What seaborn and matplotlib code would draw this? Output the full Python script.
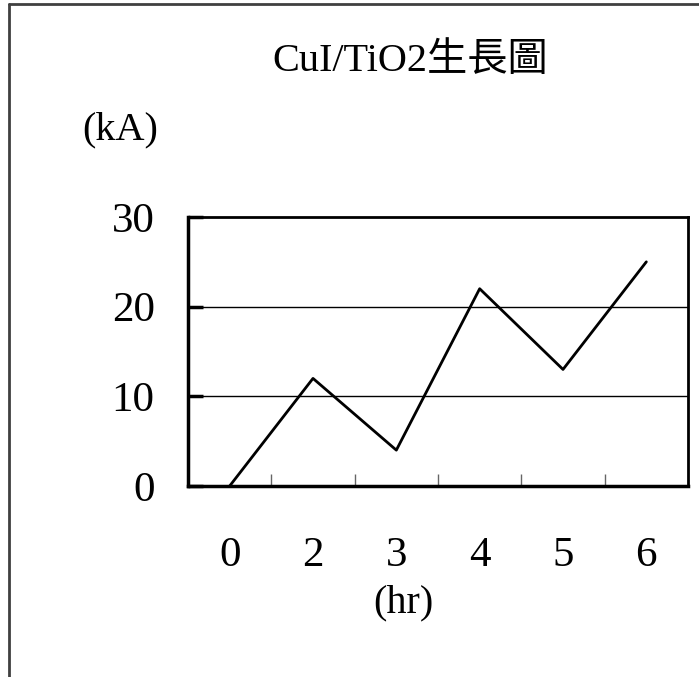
import matplotlib
matplotlib.use("Agg")
import matplotlib.pyplot as plt
from matplotlib.lines import Line2D
from matplotlib.ticker import FixedLocator
import seaborn as sns
import pandas as pd

# growth data
hours = ["0", "2", "3", "4", "5", "6"]
current_ka = [0, 12, 4, 22, 13, 25]
y_ticks = [0, 10, 20, 30]

title_text = "CuI/TiO2生長圖"
y_unit = "(kA)"
x_unit = "(hr)"

sns.set_theme(style="white")
plt.rcParams["font.family"] = ["Liberation Serif", "Noto Sans CJK TC", "DejaVu Sans"]
plt.rcParams["text.color"] = "black"
plt.rcParams["xtick.color"] = "black"
plt.rcParams["ytick.color"] = "black"

W, H = 699, 677
fig = plt.figure(figsize=(W / 100, H / 100), dpi=100)
fig.patch.set_facecolor("white")

ax = fig.add_axes([188 / W, (H - 486) / H, 500 / W, 269 / H])
df = pd.DataFrame({"hr": hours, "kA": current_ka})
sns.lineplot(data=df, x="hr", y="kA", ax=ax, color="black", linewidth=2.0,
             sort=False, estimator=None)

ax.set_xlim(-0.5, len(hours) - 0.5)
ax.set_ylim(0, 30)
ax.set_yticks(y_ticks)
ax.set_yticklabels([str(v) for v in y_ticks])
ax.set_xticks(range(len(hours)))
ax.set_xticklabels(hours)
ax.xaxis.set_minor_locator(FixedLocator([i + 0.5 for i in range(len(hours) - 1)]))

ax.set_xlabel("")
ax.set_ylabel("")

# horizontal gridlines
ax.grid(False)
for v in y_ticks[1:-1]:
    ax.axhline(v, color="black", linewidth=1.0, zorder=1)

for side in ["left", "bottom"]:
    ax.spines[side].set_linewidth(2.5)
    ax.spines[side].set_color("black")
for side in ["top", "right"]:
    ax.spines[side].set_linewidth(2.0)
    ax.spines[side].set_color("black")
    ax.spines[side].set_visible(True)

ax.tick_params(axis="y", which="major", direction="in", length=11, width=2.5,
               color="black", labelcolor="black", labelsize=31, pad=24, left=True)
ax.tick_params(axis="x", which="major", length=0, labelsize=31, pad=36.5,
               labelcolor="black")
ax.tick_params(axis="x", which="minor", direction="in", length=9, width=1.0,
               color="#666666", bottom=True)

fig.text(410 / W, 1 - 62 / H, title_text, ha="center", va="center", fontsize=29,
         color="black")
fig.text(120 / W, 1 - 130 / H, y_unit, ha="center", va="center", fontsize=29,
         color="black")
fig.text(403 / W, 1 - 603 / H, x_unit, ha="center", va="center", fontsize=29,
         color="black")

# outer frame (left and top edges)
fig.add_artist(Line2D([9 / W, 9 / W], [0, 1 - 4 / H], transform=fig.transFigure,
                      color="#404040", linewidth=2.0))
fig.add_artist(Line2D([9 / W, 1], [1 - 4 / H, 1 - 4 / H], transform=fig.transFigure,
                      color="#404040", linewidth=2.0))

fig.savefig("out.png", dpi=100, facecolor="white")
